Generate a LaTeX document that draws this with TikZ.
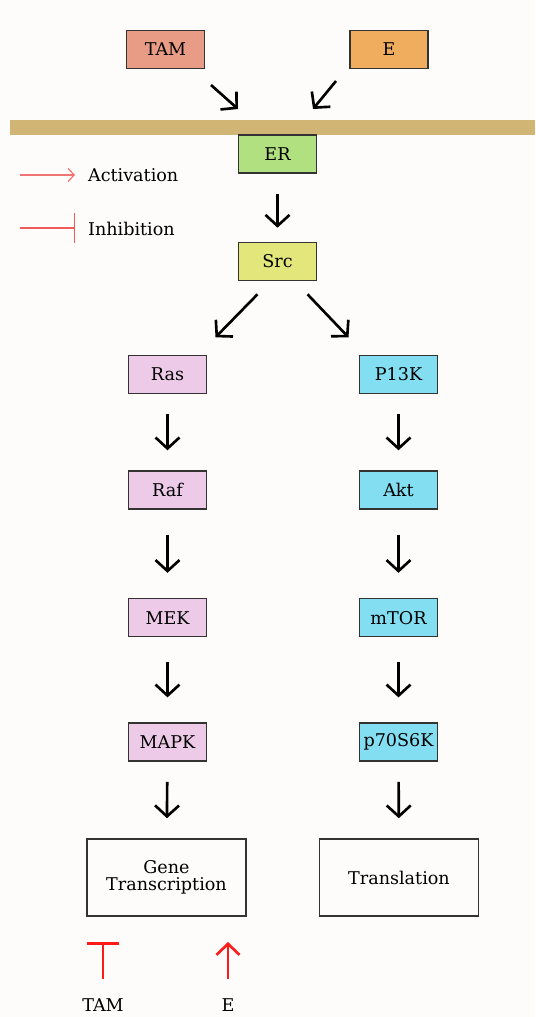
\documentclass[tikz,border=0pt]{standalone}
\usepackage{fontspec}
\setmainfont{DejaVu Serif}
\definecolor{BgWhite}{HTML}{FDFCFA}
\definecolor{Membrane}{HTML}{D1B574}
\definecolor{TamRed}{HTML}{E89C86}
\definecolor{EOrange}{HTML}{F0AD5E}
\definecolor{ErGreen}{HTML}{B0E080}
\definecolor{SrcYellow}{HTML}{E3E67A}
\definecolor{MapkPink}{HTML}{EDCBE8}
\definecolor{AktCyan}{HTML}{82DEF0}
\definecolor{LegendRed}{HTML}{F05A5A}
\definecolor{EffectRed}{HTML}{FF1A1A}
\usetikzlibrary{arrows.meta, positioning, calc}

\begin{document}
\begin{tikzpicture}[
        x=0.02cm, y=-0.02cm,
        box/.style={rectangle, draw=black!80, line width=0.9pt, minimum width=1.56cm, minimum height=0.76cm, font=\fontsize{10}{12}\selectfont, inner sep=1pt},
        bigbox/.style={rectangle, draw=black!80, line width=0.9pt, minimum width=3.18cm, minimum height=1.54cm, font=\fontsize{10}{12}\selectfont, align=center},
        label/.style={font=\fontsize{10}{12}\selectfont, inner sep=1pt},
        arrow/.style={-{Straight Barb[length=0.22cm, width=0.48cm]}, line width=1.5pt, black, shorten <=0.4cm, shorten >=0.4cm},
        activ/.style={-{Straight Barb[length=0.12cm, width=0.26cm]}, line width=0.7pt, LegendRed!85},
        inhib/.style={-{Bar[width=0.62cm]}, line width=0.7pt, LegendRed},
        effect/.style={line width=1.5pt, EffectRed}
    ]
        % Background and membrane
        \fill[BgWhite] (0,0) rectangle (535,1017);
        \fill[Membrane] (10,120) rectangle (535,135);

        % Ligands
        \node[box, fill=TamRed] (tam) at (165.5,49.5) {TAM};
        \node[box, fill=EOrange] (e) at (389,49.5) {E};
        \coordinate (tamhit) at (238,109);
        \coordinate (ehit) at (313,109);
        \draw[arrow, shorten <=0pt, shorten >=0pt] ($(tamhit)+(-27,-24)$) -- (tamhit);
        \draw[arrow, shorten <=0pt, shorten >=0pt] ($(ehit)+(23,-28)$) -- (ehit);

        % Receptor and Src
        \node[box, fill=ErGreen] (er) at (277.5,154) {ER};
        \node[box, fill=SrcYellow] (src) at (277.5,261.5) {Src};
        \draw[arrow, shorten >=0.28cm] (er) -- (src);

        % Legend
        \node[label, anchor=west] (legact) at (86,175) {Activation};
        \node[label, anchor=west] (leginh) at (86,229) {Inhibition};
        \coordinate (act0) at (20,175);
        \coordinate (inh0) at (20,228);
        \draw[activ, shorten >=0.22cm] (act0) -- (act0 -| legact.west);
        \draw[inhib, shorten >=0.22cm] (inh0) -- (inh0 -| leginh.west);

        % MAPK branch
        \node[box, fill=MapkPink] (ras) at (167.5,374.5) {Ras};
        \node[box, fill=MapkPink, below=1.52cm of ras] (raf) {Raf};
        \node[box, fill=MapkPink, below=1.76cm of raf] (mek) {MEK};
        \node[box, fill=MapkPink, below=1.70cm of mek] (mapk) {MAPK};
        \node[bigbox] (gene) at (166.5,877.5) {Gene\\[-2pt]Transcription};

        % PI3K branch
        \node[box, fill=AktCyan] (pik) at (398.5,374.5) {P13K};
        \node[box, fill=AktCyan, below=1.52cm of pik] (akt) {Akt};
        \node[box, fill=AktCyan, below=1.76cm of akt] (mtor) {mTOR};
        \node[box, fill=AktCyan, below=1.70cm of mtor] (psk) {p70S6K};
        \node[bigbox] (transl) at (399,877.5) {Translation};

        \draw[arrow, shorten <=0pt, shorten >=0pt] ($(src.south)+(-20,13)$) -- ++(-42,43);
        \draw[arrow, shorten <=0pt, shorten >=0pt] ($(src.south)+(30,13)$) -- ++(41,43);
        \foreach \a/\b/\s in {ras/raf/0.4, raf/mek/0.5, mek/mapk/0.5, mapk/gene/0.4,
                              pik/akt/0.4, akt/mtor/0.5, mtor/psk/0.5, psk/transl/0.4}
            \draw[arrow, shorten <=\s cm, shorten >=\s cm] (\a) -- (\b);

        % Effects on transcription
        \node[label] (tamlbl) at (103,1005) {TAM};
        \node[label] (elbl) at (228,1005) {E};
        \coordinate (tamtop) at (103,942);
        \coordinate (etop) at (228,942);
        \draw[effect, -{Bar[width=0.64cm]}, shorten <=0.36cm] (tamlbl) -- (tamtop);
        \draw[effect, -{Straight Barb[length=0.22cm, width=0.46cm]}, shorten <=0.36cm] (elbl) -- (etop);
    \end{tikzpicture}
\end{document}
